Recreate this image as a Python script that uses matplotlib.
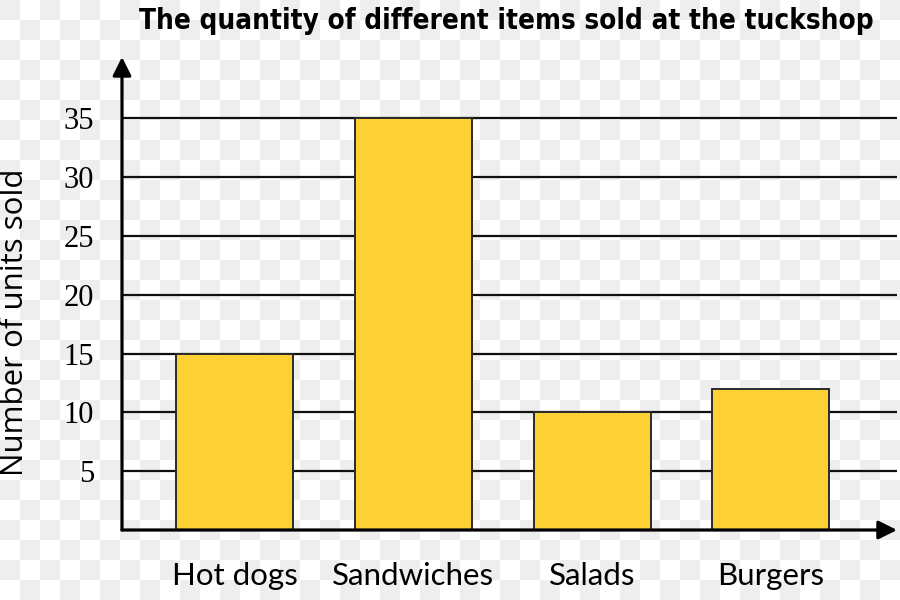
import numpy as np
import matplotlib.pyplot as plt

items = ["Hot dogs", "Sandwiches", "Salads", "Burgers"]
units_sold = [15, 35, 10, 12]
y_ticks = [5, 10, 15, 20, 25, 30, 35]

fig = plt.figure(figsize=(9, 6), dpi=100)

# checkerboard background like the reference
bg = fig.add_axes([0, 0, 1, 1], zorder=-10)
board = np.indices((30, 45)).sum(axis=0) % 2
bg.imshow(np.where(board == 0, 0.933, 1.0), cmap="gray", vmin=0, vmax=1,
          interpolation="nearest", aspect="auto")
bg.axis("off")

ax = fig.add_axes([122 / 900, 70 / 600, 775 / 900, 473 / 600])
ax.patch.set_alpha(0)

x = np.arange(len(items))
ax.set_xlim(-0.629, 3.705)
ax.set_ylim(0, 40.2)

for t in y_ticks:
    ax.axhline(t, color="#111111", lw=1.6, zorder=1)

ax.bar(x, units_sold, width=0.654, color="#FDD033", edgecolor="#2a2a2a", lw=1.4, zorder=2)

for s in ax.spines.values():
    s.set_visible(False)

ax.annotate("", xy=(0, 1), xytext=(0, 0), xycoords="axes fraction",
            arrowprops=dict(arrowstyle="-|>", mutation_scale=28, lw=2.3, color="black",
                            shrinkA=0, shrinkB=0))
ax.annotate("", xy=(1, 0), xytext=(0, 0), xycoords="axes fraction",
            arrowprops=dict(arrowstyle="-|>", mutation_scale=28, lw=2.3, color="black",
                            shrinkA=0, shrinkB=0))

ax.set_yticks(y_ticks)
ax.set_yticklabels([str(t) for t in y_ticks], family="Liberation Serif", fontsize=22)
ax.set_xticks(x)
ax.set_xticklabels(items, family="Lato", fontsize=22.5)
ax.tick_params(axis="y", length=0, pad=20)
ax.tick_params(axis="x", length=0, pad=23)

fig.text(15 / 900, 1 - 322 / 600, "Number of units sold", family="Open Sans",
         fontsize=22.5, rotation=90, ha="center", va="center")

fig.text(0.563, 0.988, "The quantity of different items sold at the tuckshop",
         ha="center", va="top", fontsize=20, fontweight="bold",
         fontstretch="condensed", family=["DejaVu Sans"])

fig.savefig("out.png", dpi=100)
